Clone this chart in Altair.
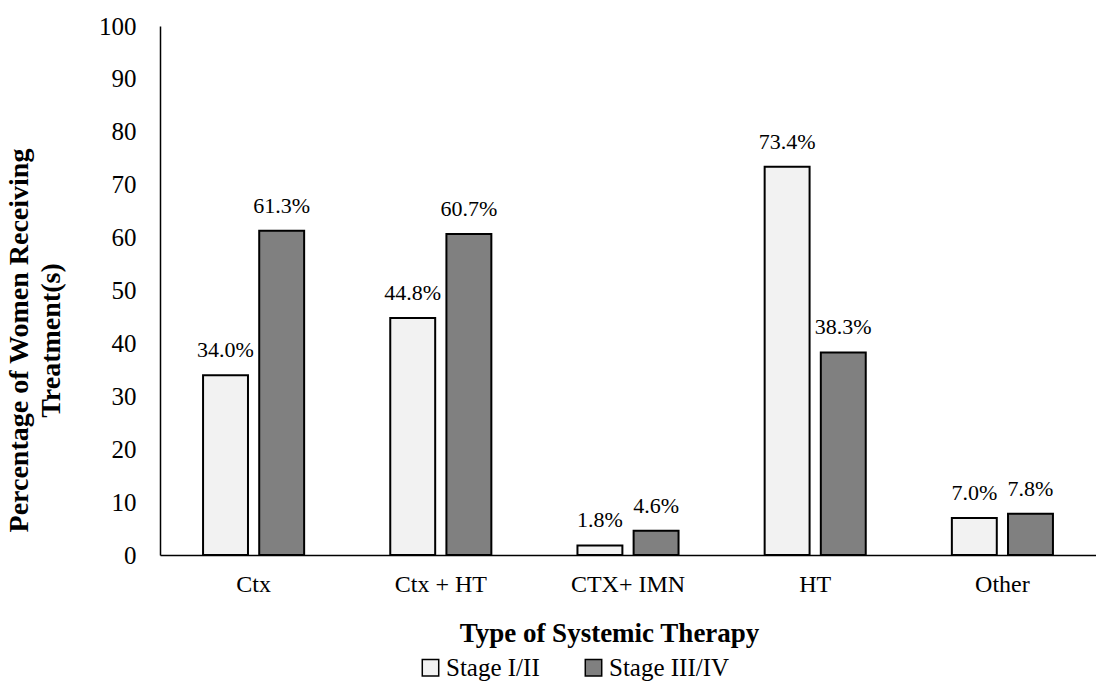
import altair as alt
import pandas as pd

categories = ["Ctx", "Ctx + HT", "CTX+ IMN", "HT", "Other"]
stage_early = [34.0, 44.8, 1.8, 73.4, 7.0]
stage_late = [61.3, 60.7, 4.6, 38.3, 7.8]
series = ["Stage I/II", "Stage III/IV"]

rows = []
for c, a, b in zip(categories, stage_early, stage_late):
    rows.append({"cat": c, "stage": series[0], "val": a, "lab": f"{a:.1f}%"})
    rows.append({"cat": c, "stage": series[1], "val": b, "lab": f"{b:.1f}%"})
df = pd.DataFrame(rows)

FONT = "Liberation Serif"

x = alt.X("cat:N", sort=categories,
          scale=alt.Scale(paddingInner=0.46, paddingOuter=0.23),
          axis=alt.Axis(title="Type of Systemic Therapy", labelAngle=0, ticks=False,
                        labelPadding=17, titlePadding=24, titleX=449, domainColor="black",
                        domainWidth=1.5, labelFontSize=24, titleFontSize=27,
                        labelColor="black", titleColor="black"))
xo = alt.XOffset("stage:N", sort=series, scale=alt.Scale(paddingInner=0.2, paddingOuter=0))
y = alt.Y("val:Q", scale=alt.Scale(domain=[0, 100], nice=False),
          axis=alt.Axis(title=["Percentage of Women Receiving", "Treatment(s)"],
                        values=list(range(0, 101, 10)), ticks=False, grid=False,
                        labelPadding=24, titlePadding=33, titleY=314, domainColor="black",
                        domainWidth=1.5, labelFontSize=25, titleFontSize=28,
                        titleLineHeight=32,
                        labelColor="black", titleColor="black"))

bars = alt.Chart(df).mark_bar(stroke="black", strokeWidth=2).encode(
    x=x, xOffset=xo, y=y,
    color=alt.Color("stage:N", sort=series,
                    scale=alt.Scale(domain=series, range=["#f2f2f2", "#808080"]),
                    legend=alt.Legend(title=None, orient="none", direction="horizontal",
                                      legendX=258, legendY=629, symbolType="square",
                                      symbolSize=270, symbolStrokeColor="black",
                                      symbolStrokeWidth=1.5, labelFontSize=25,
                                      labelColor="black", columnPadding=41,
                                      labelOffset=3)),
)

labels = alt.Chart(df).mark_text(baseline="bottom", dy=-13, fontSize=22, font=FONT,
                                 color="black").encode(
    x=alt.X("cat:N", sort=categories), xOffset=alt.XOffset("stage:N", sort=series),
    y="val:Q", text="lab:N",
)

chart = (bars + labels).properties(
    width=936, height=529,
    autosize=alt.AutoSizeParams(type="none"),
    padding={"left": 160, "top": 26, "right": 0, "bottom": 126},
).configure(font=FONT).configure_view(stroke=None).configure_axis(
    labelFont=FONT, titleFont=FONT, titleFontWeight="bold"
).configure_legend(labelFont=FONT).configure_text(font=FONT)

chart.save("out.html", embed_options={"renderer": "svg", "actions": False})
